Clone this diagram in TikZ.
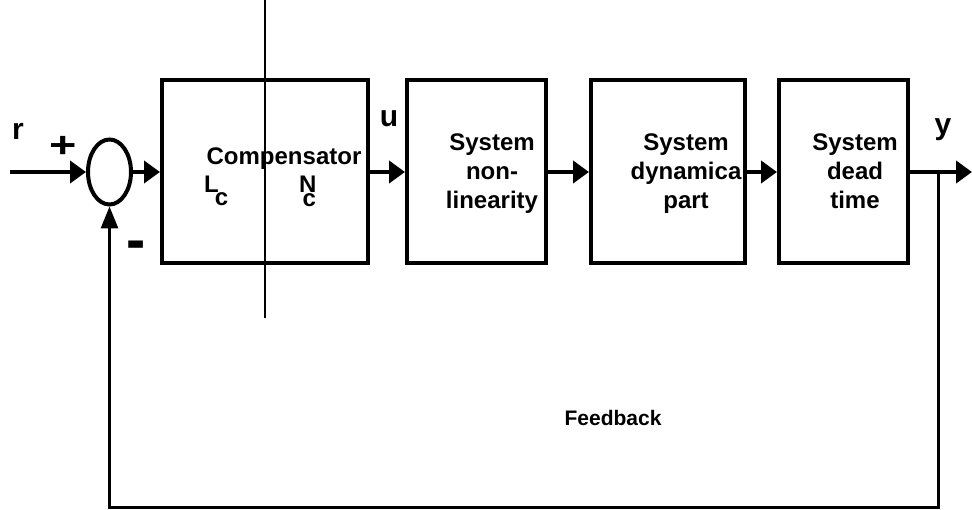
\documentclass[tikz,border=0pt]{standalone}
\usepackage{fontspec}
\setmainfont{Liberation Sans}
\usetikzlibrary{arrows.meta,shapes.geometric}
\tikzset{
  blockbox/.style={draw, line width=4pt, minimum height=183pt, inner sep=0pt},
  blocktext/.style={font=\fontsize{24}{29}\selectfont\bfseries, align=center, inner sep=0pt, anchor=north},
  comptext/.style={font=\fontsize{24}{29}\selectfont\bfseries, inner sep=0pt},
  sig/.style={line width=4.5pt, -{Triangle[length=16pt,width=22pt]}},
  fbpath/.style={line width=3pt, -{Triangle[length=22pt,width=17pt]}},
  siglabel/.style={font=\fontsize{30}{30}\selectfont\bfseries, inner sep=0pt, anchor=base},
  signmark/.style={font=\fontsize{36}{36}\selectfont\bfseries, inner sep=0pt},
  sumnode/.style={draw, ellipse, line width=4pt, minimum width=43pt, minimum height=65pt, inner sep=0pt},
}
\begin{document}
\begin{tikzpicture}[x=1pt,y=-1pt]
\useasboundingbox (0,0) rectangle (972,510);

% summing junction and blocks
\node[sumnode] (sum) at (109.5,172) {};
\node[blockbox, minimum width=206pt] (comp) at (265,172) {};
\node[blockbox, minimum width=139pt] (nonlin) at (476.5,172) {};
\node[blockbox, minimum width=154pt] (dyn) at (668,172) {};
\node[blockbox, minimum width=129pt] (dead) at (843.5,172) {};

% block captions
\node[comptext, anchor=base] (comptxt) at (284,165) {Compensator};
\node[comptext, anchor=base west] (lctxt) at (204,193) {L\kern-4pt\raisebox{-13pt}{c}};
\node[comptext, anchor=base west] (nctxt) at (299,193) {N\kern-14pt\raisebox{-14pt}{c}};
\node[blocktext] (nonlintxt) at (492,134) {System\\non-\\linearity};
\node[blocktext] (dyntxt) at (686,134) {System\\dynamica\\part};
\node[blocktext] (deadtxt) at (855,134) {System\\dead\\time};

% split line through the compensator
\coordinate (vtop) at (265,0);
\coordinate (vbot) at (265,318);
\draw[line width=1.2pt] (vtop) -- (vbot);

% forward path
\coordinate (rin) at (10,172);
\coordinate (br) at (938,172);
\coordinate (yout) at (972,172);
\draw[sig] (rin) -- (sum.west);
\draw[sig] (sum.east) -- (comp.west);
\draw[sig] (comp.east) -- (nonlin.west);
\draw[sig] (nonlin.east) -- (dyn.west);
\draw[sig] (dyn.east) -- (dead.west);
\draw[sig] (dead.east) -- (yout);

% feedback path
\coordinate (fbr) at (938,507);
\draw[fbpath] (br) -- (fbr) -| (sum.south);

% signal labels
\node[siglabel] (rlab) at (18,140) {r};
\node[siglabel] (ulab) at (389,127) {u};
\node[siglabel] (ylab) at (943,135) {y};
\node[signmark] (plus) at (63,147) {\scalebox{1.3}[1]{+}};
\node[signmark] (minus) at (136,251) {\scalebox{1.6}[1.7]{-}};
\node[font=\fontsize{21}{21}\selectfont\bfseries, inner sep=0pt, anchor=base] (fblab) at (613,426) {Feedback};
\end{tikzpicture}
\end{document}
